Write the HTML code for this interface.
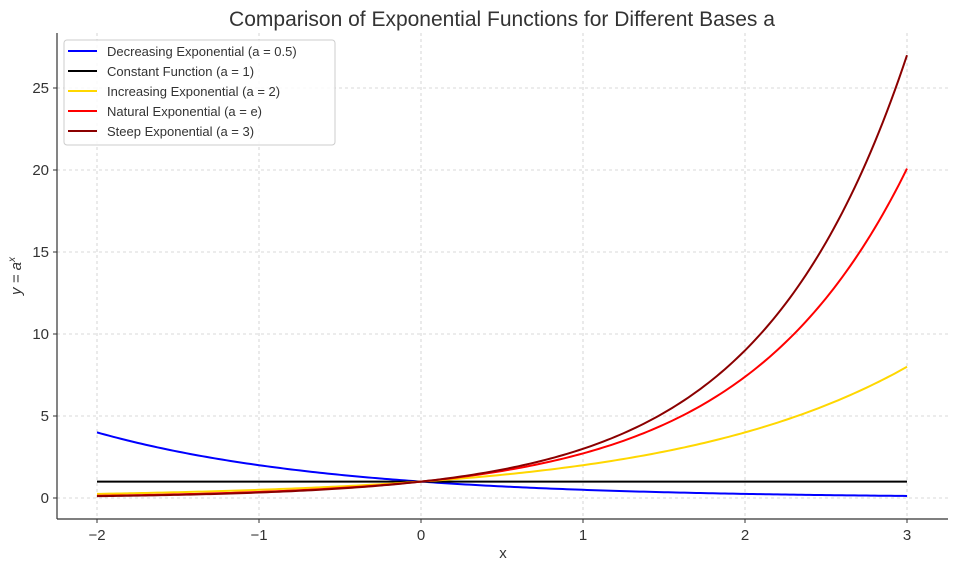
<!DOCTYPE html>
<html><head><meta charset="utf-8"><style>
body{margin:0;background:#fff;font-family:"Liberation Sans","DejaVu Sans",sans-serif;}
svg text{fill:#333;}
</style></head><body>
<svg id="chart" width="964" height="566" xmlns="http://www.w3.org/2000/svg">
<text x="502" y="26" font-size="21" text-anchor="middle">Comparison of Exponential Functions for Different Bases a</text>
<g id="grid"></g>
<g id="series"></g>
<g id="axes"></g>
<text x="503" y="558" font-size="15" text-anchor="middle">x</text>
<text transform="translate(21,276) rotate(-90)" font-size="15" text-anchor="middle" font-style="italic">y = a<tspan font-size="10" dy="-6">x</tspan></text>
<g id="legend"></g>
</svg>
<script>
const seriesNames=["Decreasing Exponential (a = 0.5)","Constant Function (a = 1)","Increasing Exponential (a = 2)","Natural Exponential (a = e)","Steep Exponential (a = 3)"];
const seriesBases=[0.5,1,2,Math.E,3];
const seriesColors=["#0000ff","#000000","#ffd700","#ff0000","#8b0000"];
const xTicks=[-2,-1,0,1,2,3];
const yTicks=[0,5,10,15,20,25];
const xDomain=[-2,3];
const NS="http://www.w3.org/2000/svg";
const L=57,R=948,T=33,B=519;
const sx=v=>97+(v+2)*162;
const sy=v=>498-v*16.4;
function mk(tag,attrs,parent){const e=document.createElementNS(NS,tag);for(const k in attrs)e.setAttribute(k,attrs[k]);parent.appendChild(e);return e;}
const grid=document.getElementById('grid'),axes=document.getElementById('axes'),ser=document.getElementById('series'),leg=document.getElementById('legend');
xTicks.forEach(t=>{
 const g=mk('line',{x1:sx(t),x2:sx(t),y1:T,y2:B,stroke:'#ccc','stroke-dasharray':'3,3','stroke-width':0.8},grid);
 
 const k=mk('line',{x1:sx(t),x2:sx(t),y1:B,y2:B+4,stroke:'#333'},axes);
 
 const tx=mk('text',{x:sx(t),y:B+21,'font-size':15,'text-anchor':'middle'},axes);
 tx.textContent=t<0?'\u2212'+(-t):String(t);
 
});
yTicks.forEach(t=>{
 const g=mk('line',{x1:L,x2:R,y1:sy(t),y2:sy(t),stroke:'#ccc','stroke-dasharray':'3,3','stroke-width':0.8},grid);
 
 const k=mk('line',{x1:L-4,x2:L,y1:sy(t),y2:sy(t),stroke:'#333'},axes);
 
 const tx=mk('text',{x:L-8,y:sy(t)+5,'font-size':15,'text-anchor':'end'},axes);
 tx.textContent=String(t);
 
});
const sp1=mk('line',{x1:L,x2:L,y1:T,y2:B,stroke:'#333','stroke-width':1.2},axes);

const sp2=mk('line',{x1:L,x2:R,y1:B,y2:B,stroke:'#333','stroke-width':1.2},axes);

seriesBases.forEach((a,i)=>{
 let d='';const n=200;
 for(let j=0;j<=n;j++){const x=xDomain[0]+(xDomain[1]-xDomain[0])*j/n;d+=(j?'L':'M')+sx(x).toFixed(2)+','+sy(Math.pow(a,x)).toFixed(2);}
 const p=mk('path',{d:d,fill:'none',stroke:seriesColors[i],'stroke-width':2},ser);
 
});
const box=mk('rect',{x:64,y:40,width:271,height:105,rx:3,fill:'#fff','fill-opacity':0.85,stroke:'#ccc'},leg);

seriesNames.forEach((nm,i)=>{
 const y=51+i*20;
 const l=mk('line',{x1:68,x2:97,y1:y,y2:y,stroke:seriesColors[i],'stroke-width':2},leg);
 
 const t=mk('text',{x:107,y:y+5,'font-size':13},leg);t.textContent=nm;
 
});
</script>
</body></html>
